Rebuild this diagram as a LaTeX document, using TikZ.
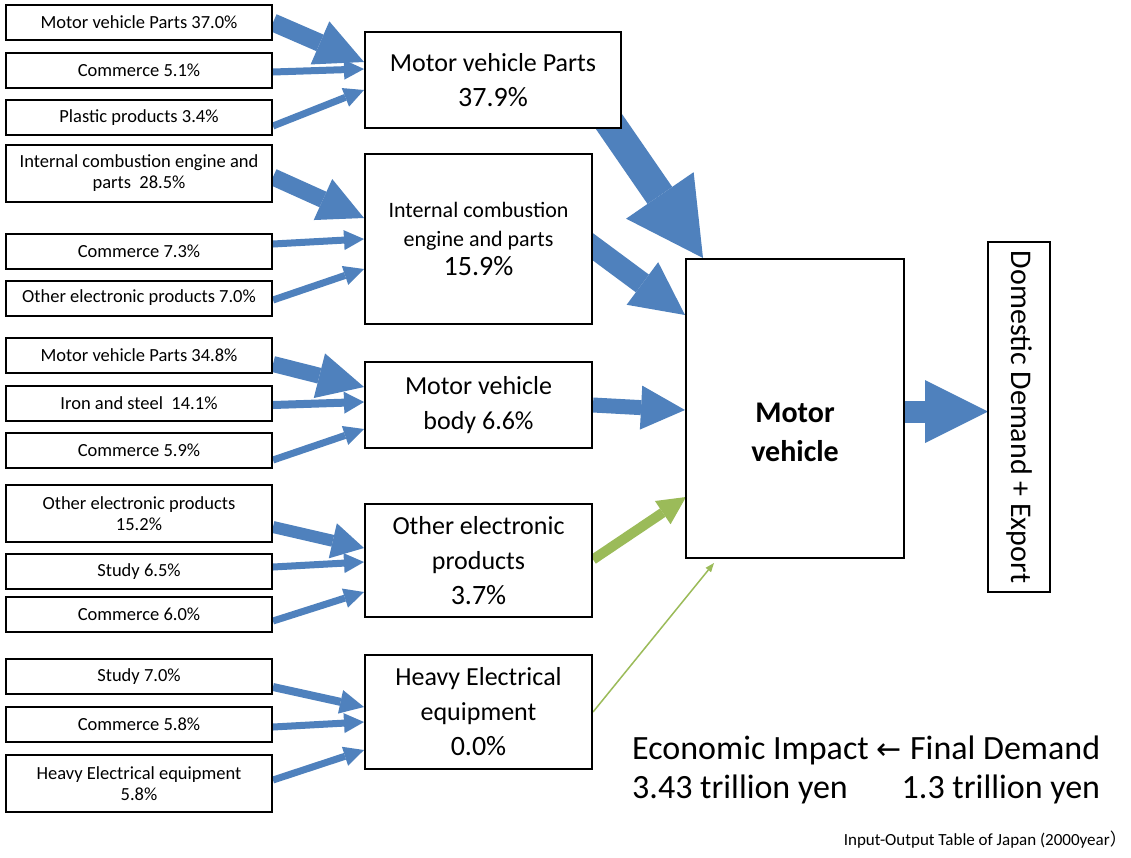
\documentclass[tikz,border=0pt]{standalone}
\usepackage{fontspec}
\setmainfont{Carlito}
\newfontfamily\cjk{Noto Sans CJK JP}
\newfontfamily\dejavu{DejaVu Sans}
\usetikzlibrary{arrows.meta,calc,backgrounds}
\definecolor{ablue}{HTML}{4F81BD}
\definecolor{agreen}{HTML}{9BBB59}
\begin{document}
\begin{tikzpicture}[x=1pt,y=-1pt,
  box/.style={draw=black, line width=2pt, fill=white, align=center, inner sep=0pt},
  lbox/.style={box, minimum width=266pt, minimum height=35pt, font=\fontsize{18.5}{21}\selectfont},
  lbox2/.style={lbox, minimum height=57pt},
  mbox/.style={box, minimum width=227pt, font=\fontsize{26}{35}\selectfont},
  flow/.style n args={4}{draw=#4, line width=#1pt,
    -{Triangle[length=#3pt 0 0, width=#2pt 0 0, line width=0pt 0 0]}},
]
\useasboundingbox (0,0) rectangle (1131,857);

% left column
\node[lbox]  (L1)  at (139,22.5)  {Motor vehicle Parts 37.0\%};
\node[lbox]  (L2)  at (139,70.5)  {Commerce 5.1\%};
\node[lbox]  (L3)  at (139,117.5) {Plastic products 3.4\%};
\node[lbox2] (L4)  at (139,173.5) {Internal combustion engine and\\parts\ \ 28.5\%};
\node[lbox]  (L5)  at (139,251)   {Commerce 7.3\%};
\node[lbox]  (L6)  at (139,298)   {Other electronic products 7.0\%};
\node[lbox]  (L7)  at (139,355.5) {Motor vehicle Parts 34.8\%};
\node[lbox]  (L8)  at (139,403)   {Iron and steel\ \ 14.1\%};
\node[lbox]  (L9)  at (139,450)   {Commerce 5.9\%};
\node[lbox2] (L10) at (139,513.5) {Other electronic products\\15.2\%};
\node[lbox]  (L11) at (139,571.5) {Study 6.5\%};
\node[lbox]  (L12) at (139,614)   {Commerce 6.0\%};
\node[lbox]  (L13) at (139,676.5) {Study 7.0\%};
\node[lbox]  (L14) at (139,724.5) {Commerce 5.8\%};
\node[lbox2] (L15) at (139,783.5) {Heavy Electrical equipment\\5.8\%};

% middle column
\node[mbox, minimum width=256pt, minimum height=96pt] (MA) at (493,80)
  {Motor vehicle Parts\\{\fontsize{28}{35}\selectfont 37.9\%}};
\node[mbox, minimum height=170pt, font=\fontsize{22}{29}\selectfont] (MB) at (478.5,239)
  {Internal combustion\\engine and parts\\{\fontsize{28}{33}\selectfont 15.9\%}};
\node[mbox, minimum height=86pt] (MC) at (478.5,405)
  {Motor vehicle\\body 6.6\%};
\node[mbox, minimum height=113pt] (MD) at (478.5,560.5)
  {Other electronic\\products\\{\fontsize{28}{34}\selectfont 3.7\%}};
\node[mbox, minimum height=114pt] (ME) at (478.5,712)
  {Heavy Electrical\\equipment\\{\fontsize{28}{34}\selectfont 0.0\%}};

% right
\node[box, minimum width=218pt, minimum height=299pt] (MV) at (795,408.5) {};
\node[align=center, font=\fontsize{30}{39}\bfseries\selectfont] (MVt) at ($(MV.center)+(0,24)$) {Motor\\vehicle};
\node[box, rotate=-90, minimum width=350pt, minimum height=62pt, font=\fontsize{30}{34}\selectfont] (DE) at (1019,417) {Domestic Demand + Export};

% notes
\node[anchor=west, font=\fontsize{34}{39}\selectfont, align=left, inner sep=0pt] (EI) at (632,770)
  {\makebox[468pt][l]{Economic Impact\hfill{\dejavu\fontsize{30}{34}\selectfont ←}\hfill Final Demand}\\\makebox[468pt][l]{3.43 trillion yen\hfill 1.3 trillion yen}};
\node[anchor=east, font=\fontsize{17}{20}\selectfont, inner sep=0pt] (SRC) at (1127,840)
  {Input-Output Table of Japan (2000year{\cjk ）}};

\begin{scope}[on background layer]
\fill[white] (0,0) rectangle (1131,857);
% group A
\draw[flow={18}{47}{48}{ablue}] (L1.east) -- ($(MA.west)+(0,-18)$);
\draw[flow={7}{20}{20}{ablue}] ($(L2.east)+(0,1.5)$) -- ($(MA.west)+(0,-11)$);
\draw[flow={7}{20}{20}{ablue}] ($(L3.east)+(0,8.5)$) -- ($(MA.west)+(0,10)$);
% group B
\draw[flow={17}{45}{45}{ablue}] ($(L4.east)+(0,3.5)$) -- ($(MB.west)+(0,-21)$);
\draw[flow={7}{20}{20}{ablue}] ($(L5.east)+(0,-7)$) -- ($(MB.west)+(0,0)$);
\draw[flow={7}{20}{20}{ablue}] ($(L6.east)+(0,2)$) -- ($(MB.west)+(0,30)$);
% group C
\draw[flow={16}{46}{46}{ablue}] ($(L7.east)+(0,8.5)$) -- ($(MC.west)+(0,-18)$);
\draw[flow={8}{22}{20}{ablue}] ($(L8.east)+(0,2)$) -- ($(MC.west)+(0,-3)$);
\draw[flow={7}{20}{20}{ablue}] ($(L9.east)+(0,10)$) -- ($(MC.west)+(0,24)$);
% group D
\draw[flow={12}{36}{32}{ablue}] ($(L10.east)+(0,13.5)$) -- ($(MD.west)+(0,-12.5)$);
\draw[flow={7}{20}{20}{ablue}] ($(L11.east)+(0,-4.5)$) -- ($(MD.west)+(0,1.5)$);
\draw[flow={7}{20}{20}{ablue}] ($(L12.east)+(0,7)$) -- ($(MD.west)+(0,31.5)$);
% group E
\draw[flow={8}{24}{24}{ablue}] ($(L13.east)+(0,10.5)$) -- ($(ME.west)+(0,-5)$);
\draw[flow={7}{20}{20}{ablue}] ($(L14.east)+(0,2.5)$) -- ($(ME.west)+(0,10)$);
\draw[flow={7}{20}{20}{ablue}] ($(L15.east)+(0,-3.5)$) -- ($(ME.west)+(0,38)$);
% to motor vehicle
\draw[flow={30}{82}{76}{ablue}] ($(MA.center)+(108,30)$) -- ($(MV.north west)+(18,0)$);
\draw[flow={22}{53}{53}{ablue}] ($(MB.east)+(-12,-1)$) -- ($(MV.west)+(0,-93.5)$);
\draw[flow={15}{44}{44}{ablue}] (MC.east) -- ($(MV.west)+(0,1.5)$);
\draw[flow={10}{28}{28}{agreen}] ($(MD.east)+(0,-1)$) -- ($(MV.west)+(1,88.5)$);
\draw[flow={1.5}{7}{9}{agreen}] (ME.east) -- ($(MV.south west)+(29,4)$);
% to demand
\draw[flow={22}{63}{63}{ablue}] ($(MV.east)+(0,3)$) -- ($(DE.center)+(-31,-5.5)$);
\end{scope}
\end{tikzpicture}
\end{document}
